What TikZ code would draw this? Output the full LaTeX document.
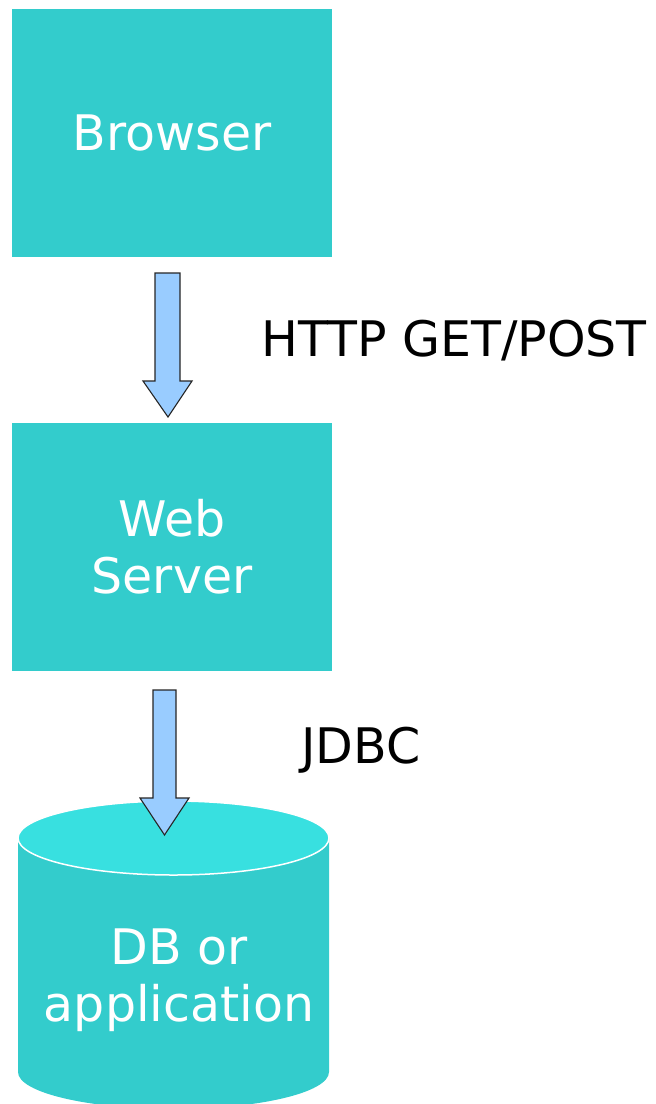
\documentclass[tikz,border=0pt]{standalone}
\usepackage{fontspec}
\setmainfont{DejaVu Sans}
\definecolor{boxteal}{HTML}{33CCCC}
\definecolor{topteal}{HTML}{38E0E0}
\definecolor{arrowblue}{HTML}{99CCFF}
\begin{document}
\begin{tikzpicture}[x=1pt,y=1pt,
  box/.style={fill=boxteal, minimum width=320pt, minimum height=248pt, inner sep=0pt,
    text=white, align=center, font=\fontsize{49}{57}\selectfont},
  lbl/.style={inner sep=0pt, font=\fontsize{49}{57}\selectfont, anchor=west},
  blockarrow/.style={fill=arrowblue, draw=black!85, line width=1.1pt, line join=miter}]
\useasboundingbox (0,0) rectangle (656,-1104);

% boxes
\node[box] (browser) at (172,-133) {Browser};
\node[box] (server)  at (172,-547) {Web\\Server};

% database cylinder
\coordinate (dbtop) at (173.5,-838);
\fill[boxteal] (18,-838) -- (18,-1072)
  arc[start angle=180, end angle=360, x radius=155.5, y radius=37] -- (329,-838) -- cycle;
\filldraw[fill=topteal, draw=white, line width=1.5pt] (dbtop) ellipse [x radius=155.5, y radius=37];
\node[text=white, align=center, inner sep=0pt, font=\fontsize{49}{57}\selectfont] (db) at (179,-980) {DB or\\application};

% block arrows
\coordinate (a1) at (168,-273);
\coordinate (a2) at (164.5,-690);
\draw[blockarrow] (155,-273) -- (180,-273) -- (180,-381) -- (192,-381) -- (168,-417)
  -- (143,-381) -- (155,-381) -- cycle;
\draw[blockarrow] (153,-690) -- (176,-690) -- (176,-798) -- (189,-798) -- (164.5,-835)
  -- (140,-798) -- (153,-798) -- cycle;

% protocol labels
\node[lbl] (http) at (261,-341) {HTTP GET/POST};
\node[lbl] (jdbc) at (301,-750) {JDBC};
\end{tikzpicture}
\end{document}
